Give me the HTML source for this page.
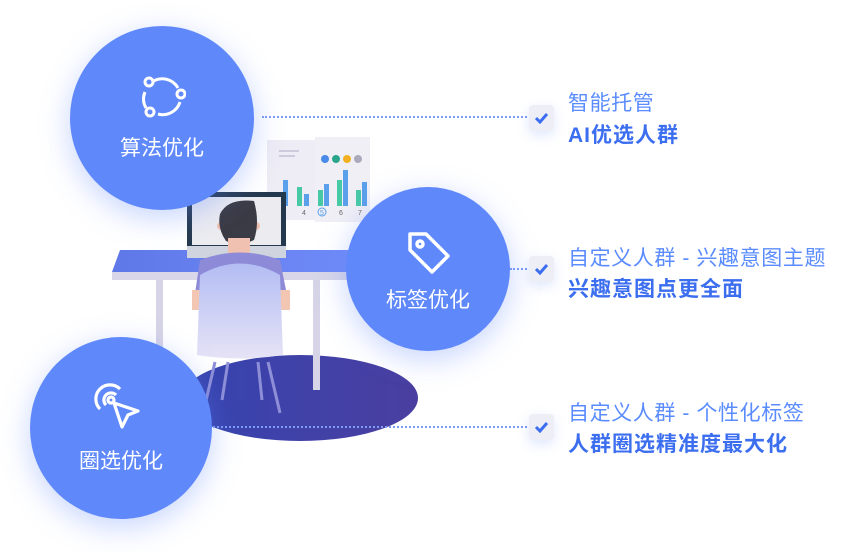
<!DOCTYPE html>
<html><head><meta charset="utf-8"><style>
body{margin:0;width:859px;height:552px;background:#fff;position:relative;overflow:hidden;font-family:"Liberation Sans","Noto Sans CJK SC",sans-serif}
.c{position:absolute;border-radius:50%;background:#5f88fb;box-shadow:0 8px 30px rgba(95,136,251,.35);color:#fff;text-align:center;font-size:21px}
.dot{position:absolute;border-top:2px dotted #7f9cf5;height:0}
.cb{position:absolute;width:25px;height:26px;background:#eeeef6;border-radius:4px;box-shadow:0 4px 12px rgba(95,136,251,.2)}
.cb svg{position:absolute;left:6px;top:7px}
.t1{position:absolute;font-size:21px;color:#5b8cff;white-space:nowrap;letter-spacing:0.6px}
.t2{position:absolute;font-size:21px;color:#3c6ef0;font-weight:bold;white-space:nowrap;letter-spacing:1px}
</style></head><body>
<svg width="859" height="552" style="position:absolute;left:0;top:0">
<defs><linearGradient id="ch" x1="0" y1="0" x2="0" y2="1"><stop offset="0" stop-color="#b3bdf3"/><stop offset="1" stop-color="#e6e3f6"/></linearGradient>
<linearGradient id="el" x1="0" y1="0" x2="1" y2="0"><stop offset="0" stop-color="#3644b0"/><stop offset="1" stop-color="#4a3fa0"/></linearGradient>
<linearGradient id="dk" x1="0" y1="0" x2="1" y2="0"><stop offset="0" stop-color="#5f78e8"/><stop offset="1" stop-color="#6f8bf8"/></linearGradient></defs>
<ellipse cx="300" cy="398" rx="118" ry="43" fill="url(#el)"/>
<rect x="267" y="140" width="48" height="80" fill="#eeecf4"/>
<rect x="315" y="137" width="55" height="85" fill="#f0eff5"/>
<rect x="283" y="180" width="5" height="26" fill="#5aa0ea"/>
<rect x="297" y="187" width="5" height="19" fill="#47c9a6"/><rect x="304" y="194" width="5" height="12" fill="#5aa0ea"/>
<rect x="318" y="190" width="5" height="16" fill="#47c9a6"/><rect x="324" y="184" width="5" height="22" fill="#5aa0ea"/>
<rect x="337" y="180" width="5" height="26" fill="#47c9a6"/><rect x="343" y="170" width="5" height="36" fill="#5aa0ea"/>
<rect x="356" y="190" width="5" height="16" fill="#47c9a6"/><rect x="362" y="182" width="5" height="24" fill="#5aa0ea"/>
<circle cx="325" cy="159" r="4" fill="#4a8ae8"/><circle cx="336" cy="159" r="4" fill="#2aa58a"/><circle cx="347" cy="159" r="4" fill="#f0b020"/><circle cx="358" cy="159" r="4" fill="#aab"/>
<rect x="279" y="150" width="20" height="2" fill="#ccd"/><rect x="279" y="155" width="16" height="2" fill="#ccd"/>
<g font-size="7" fill="#666" font-family="Liberation Sans"><text x="302" y="215">4</text><circle cx="322" cy="212" r="4" fill="none" stroke="#5aa0ea"/><text x="320" y="215" fill="#5aa0ea">5</text><text x="339" y="215">6</text><text x="358" y="215">7</text></g>
<polygon points="120,250 350,250 350,272 112,272" fill="url(#dk)"/>
<rect x="112" y="272" width="240" height="8" fill="#d8d6e8"/>
<rect x="156" y="280" width="7" height="112" fill="#d6d4e6"/>
<rect x="313" y="280" width="7" height="110" fill="#d6d4e6"/>
<rect x="187" y="192" width="99" height="60" fill="#25394e"/>
<rect x="192" y="197" width="89" height="48" fill="#ececf0"/>
<rect x="187" y="246" width="99" height="12" fill="#cfd4de"/>
<circle cx="221" cy="226" r="4" fill="#f0c0b0"/><circle cx="256" cy="226" r="4" fill="#f0c0b0"/>
<path d="M220 214 Q228 198 254 201 Q260 222 254 240 Q240 247 226 241 Q217 228 220 214Z" fill="#3b3b45"/>
<rect x="228" y="238" width="22" height="20" fill="#f0c0b0"/>
<path d="M200 260 Q240 245 280 260 L288 300 L194 300 Z" fill="#8d8ad8"/>
<rect x="192" y="290" width="12" height="20" fill="#f3c5b3"/><rect x="278" y="290" width="12" height="20" fill="#f3c5b3"/>
<path d="M200 275 Q240 252 280 275 L283 355 Q240 362 197 355 Z" fill="url(#ch)"/>
<g stroke="#8f8fd8" stroke-width="3"><line x1="215" y1="362" x2="205" y2="405"/><line x1="228" y1="362" x2="222" y2="400"/><line x1="258" y1="362" x2="262" y2="400"/><line x1="268" y1="362" x2="280" y2="413"/></g>
</svg>
<div class="dot" style="left:262px;top:116px;width:265px"></div>
<div class="dot" style="left:510px;top:268px;width:17px"></div>
<div class="dot" style="left:210px;top:426px;width:317px"></div>

<div class="c" style="left:70px;top:26px;width:184px;height:184px">
<svg style="position:absolute;left:68px;top:46px" width="48" height="48" viewBox="0 0 48 48" fill="none" stroke="#fff" stroke-width="3"><path d="M14 10 A18 18 0 0 1 40 16"/><path d="M42 30 A18 18 0 0 1 20 42"/><path d="M8 36 A18 18 0 0 1 7 20"/><circle cx="11" cy="10" r="4"/><circle cx="43" cy="22" r="4"/><circle cx="12" cy="40" r="4"/></svg>
<div style="position:absolute;top:106px;width:100%">算法优化</div></div>
<div class="c" style="left:346px;top:187px;width:164px;height:164px">
<svg style="position:absolute;left:60px;top:43px" width="46" height="46" viewBox="0 0 46 46" fill="none" stroke="#fff" stroke-width="3.5" stroke-linejoin="round"><path d="M4 4 L20 4 L42 26 L26 42 L4 20 Z"/><circle cx="14" cy="14" r="3"/></svg>
<div style="position:absolute;top:97px;width:100%">标签优化</div></div>
<div class="c" style="left:30px;top:337px;width:182px;height:182px">
<svg style="position:absolute;left:64px;top:46px" width="50" height="50" viewBox="0 0 50 50" fill="none" stroke="#fff" stroke-width="3.2"><path d="M6 26 A14 14 0 1 1 26 6"/><path d="M12 22 A7 7 0 1 1 22 12"/><circle cx="17" cy="17" r="3"/><path d="M20 20 L44 28 L34 32 L28 44 Z" stroke-linejoin="round"/></svg>
<div style="position:absolute;top:108px;width:100%">圈选优化</div></div>

<div class="cb" style="left:529px;top:105px"><svg width="13" height="12"><path d="M1 6 L5 10 L12 2" stroke="#3c6ef0" stroke-width="3" fill="none"/></svg></div>
<div class="cb" style="left:529px;top:256px"><svg width="13" height="12"><path d="M1 6 L5 10 L12 2" stroke="#3c6ef0" stroke-width="3" fill="none"/></svg></div>
<div class="cb" style="left:529px;top:414px"><svg width="13" height="12"><path d="M1 6 L5 10 L12 2" stroke="#3c6ef0" stroke-width="3" fill="none"/></svg></div>

<div class="t1" style="left:568px;top:87px">智能托管</div>
<div class="t2" style="left:568px;top:119px">AI优选人群</div>
<div class="t1" style="left:568px;top:242px">自定义人群 - 兴趣意图主题</div>
<div class="t2" style="left:568px;top:273px">兴趣意图点更全面</div>
<div class="t1" style="left:568px;top:397px">自定义人群 - 个性化标签</div>
<div class="t2" style="left:568px;top:428px">人群圈选精准度最大化</div>
</body></html>
